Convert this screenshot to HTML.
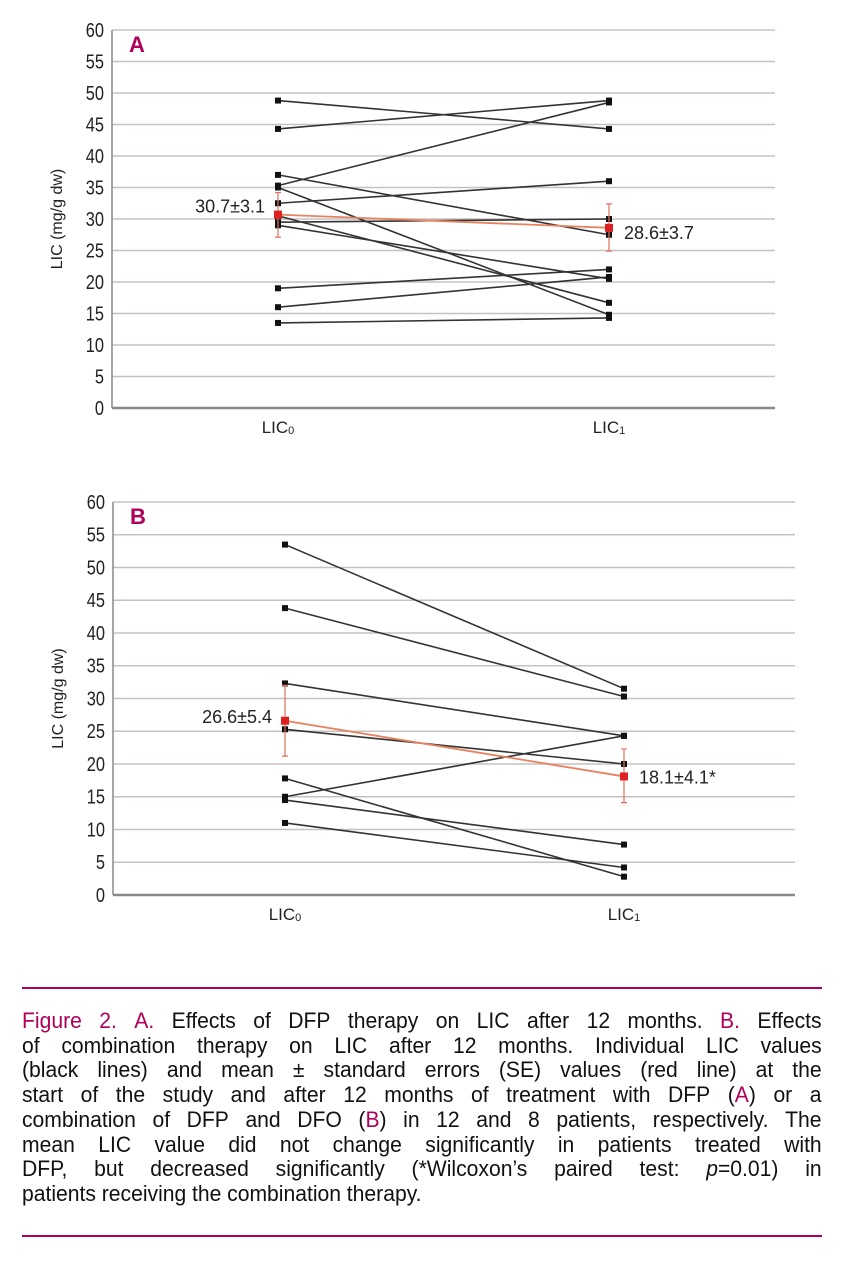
<!DOCTYPE html>
<html><head><meta charset="utf-8">
<style>
body{margin:0;background:#fff;width:851px;height:1280px;overflow:hidden;font-family:"Liberation Sans",sans-serif;}
svg text{font-family:"Liberation Sans",sans-serif;}
#cap{position:absolute;left:22px;top:1009px;width:833px;font-size:22px;line-height:24.7px;color:#111;transform:scaleX(0.96);transform-origin:0 0;}
#cap div{white-space:nowrap;display:flex;justify-content:space-between;}
#cap div.last{justify-content:flex-start;gap:6px;}
.m{color:#b0005a}
.rule{position:absolute;left:22px;width:800px;height:2px;background:#b0005a}
</style></head><body>
<svg id="chart" width="851" height="980" style="position:absolute;left:0;top:0"></svg>
<div class="rule" style="top:987px"></div>
<div id="cap">
<div><span class="m">Figure</span><span class="m">2.</span><span class="m">A.</span><span>Effects</span><span>of</span><span>DFP</span><span>therapy</span><span>on</span><span>LIC</span><span>after</span><span>12</span><span>months.</span><span class="m">B.</span><span>Effects</span></div>
<div><span>of</span><span>combination</span><span>therapy</span><span>on</span><span>LIC</span><span>after</span><span>12</span><span>months.</span><span>Individual</span><span>LIC</span><span>values</span></div>
<div><span>(black</span><span>lines)</span><span>and</span><span>mean</span><span>±</span><span>standard</span><span>errors</span><span>(SE)</span><span>values</span><span>(red</span><span>line)</span><span>at</span><span>the</span></div>
<div><span>start</span><span>of</span><span>the</span><span>study</span><span>and</span><span>after</span><span>12</span><span>months</span><span>of</span><span>treatment</span><span>with</span><span>DFP</span><span>(<span class="m">A</span>)</span><span>or</span><span>a</span></div>
<div><span>combination</span><span>of</span><span>DFP</span><span>and</span><span>DFO</span><span>(<span class="m">B</span>)</span><span>in</span><span>12</span><span>and</span><span>8</span><span>patients,</span><span>respectively.</span><span>The</span></div>
<div><span>mean</span><span>LIC</span><span>value</span><span>did</span><span>not</span><span>change</span><span>significantly</span><span>in</span><span>patients</span><span>treated</span><span>with</span></div>
<div><span>DFP,</span><span>but</span><span>decreased</span><span>significantly</span><span>(*Wilcoxon’s</span><span>paired</span><span>test:</span><span><i>p</i>=0.01)</span><span>in</span></div>
<div class="last"><span>patients</span><span>receiving</span><span>the</span><span>combination</span><span>therapy.</span></div>
</div>
<div class="rule" style="top:1235px"></div>
<script>
const ticks=[0,5,10,15,20,25,30,35,40,45,50,55,60];
const catLabels=["LIC","LIC"];
const catSubs=["0","1"];
const aStart=[48.8,44.3,35.3,37,32.5,35,29.5,30.5,29,19,16,13.5];
const aEnd=[44.3,48.8,48.5,27.5,36,14.8,30,16.7,20.5,22,20.8,14.3];
const aMean=[30.7,28.6];
const aErrLo=[27.1,24.9];
const aErrHi=[34.2,32.4];
const aMeanLabels=["30.7±3.1","28.6±3.7"];
const bStart=[53.5,43.8,32.3,25.3,15,17.8,14.5,11];
const bEnd=[31.5,30.3,24.3,20,24.3,2.8,7.7,4.2];
const bMean=[26.6,18.1];
const bErrLo=[21.2,14.1];
const bErrHi=[32,22.3];
const bMeanLabels=["26.6±5.4","18.1±4.1*"];
const NS="http://www.w3.org/2000/svg";
const svg=document.getElementById('chart');
function el(t,a,p){const e=document.createElementNS(NS,t);for(const k in a)e.setAttribute(k,a[k]);(p||svg).appendChild(e);return e;}
function panel(cfg){
 const g=el('g',{});
 
 
 const y=v=>cfg.y0-(cfg.y0-cfg.y60)*v/60;
 const xs=[cfg.xc0,cfg.xc1];
 ticks.forEach(t=>{
  if(t>0){const l=el('line',{x1:cfg.xl,x2:cfg.xr,y1:y(t),y2:y(t),stroke:'#c8c0c0','stroke-width':1.6},g);
  }
  const tx=el('text',{x:cfg.xl-8,y:y(t)+7,'text-anchor':'end','font-size':20,fill:'#222',transform:`translate(${cfg.xl-8},0) scale(0.82,1) translate(${-(cfg.xl-8)},0)`},g);tx.textContent=t;
  
 });
 const ax=el('line',{x1:cfg.xl,x2:cfg.xl,y1:cfg.y60,y2:cfg.y0,stroke:'#888','stroke-width':1.5},g);
 
 const bx=el('line',{x1:cfg.xl,x2:cfg.xr,y1:cfg.y0,y2:cfg.y0,stroke:'#888','stroke-width':2.5},g);
 
 const yt=el('text',{x:0,y:0,'text-anchor':'middle','font-size':16,fill:'#222',transform:`translate(${cfg.xl-50},${y(30)}) rotate(-90)`},g);
 yt.textContent='LIC (mg/g dw)';
 const pl=el('text',{x:cfg.xl+17,y:cfg.y60+22,'font-size':22,'font-weight':'bold',fill:'#b0005a'},g);
 pl.textContent=cfg.id.toUpperCase();
 xs.forEach((x,i)=>{
  const t=el('text',{x:x,y:cfg.y0+25,'text-anchor':'middle','font-size':17,fill:'#222'},g);
  t.textContent=catLabels[i];const s=el('tspan',{'font-size':11,dy:1},t);s.textContent=catSubs[i];
  
 });
 cfg.s.forEach((v,i)=>{
  const l=el('line',{x1:xs[0],y1:y(v),x2:xs[1],y2:y(cfg.e[i]),stroke:'#333','stroke-width':1.6},g);
  
  [[xs[0],v],[xs[1],cfg.e[i]]].forEach(p=>{const r=el('rect',{x:p[0]-3,y:y(p[1])-3,width:6,height:6,fill:'#111'},g);
   });
 });
 const ml=el('line',{x1:xs[0],y1:y(cfg.m[0]),x2:xs[1],y2:y(cfg.m[1]),stroke:'#e8825e','stroke-width':1.8},g);
 
 xs.forEach((x,i)=>{
  const eb=el('path',{d:`M${x},${y(cfg.lo[i])}V${y(cfg.hi[i])}M${x-3},${y(cfg.lo[i])}h6M${x-3},${y(cfg.hi[i])}h6`,stroke:'#e07060','stroke-width':1.2,fill:'none'},g);
  
  const r=el('rect',{x:x-4,y:y(cfg.m[i])-4,width:8,height:8,fill:'#e02020'},g);
  
  const t=el('text',{x:i?x+15:x-13,y:y(cfg.m[i])+(i?cfg.off1:cfg.off0),'text-anchor':i?'start':'end','font-size':18,fill:'#222'},g);
  t.textContent=cfg.ml[i];
 });
}
panel({id:'a',xl:112,xr:775,y60:30,y0:408,xc0:278,xc1:609,s:aStart,e:aEnd,m:aMean,lo:aErrLo,hi:aErrHi,ml:aMeanLabels,off0:-2,off1:11});
panel({id:'b',xl:113,xr:795,y60:502,y0:895,xc0:285,xc1:624,s:bStart,e:bEnd,m:bMean,lo:bErrLo,hi:bErrHi,ml:bMeanLabels,off0:2,off1:7});
</script>
</body></html>
